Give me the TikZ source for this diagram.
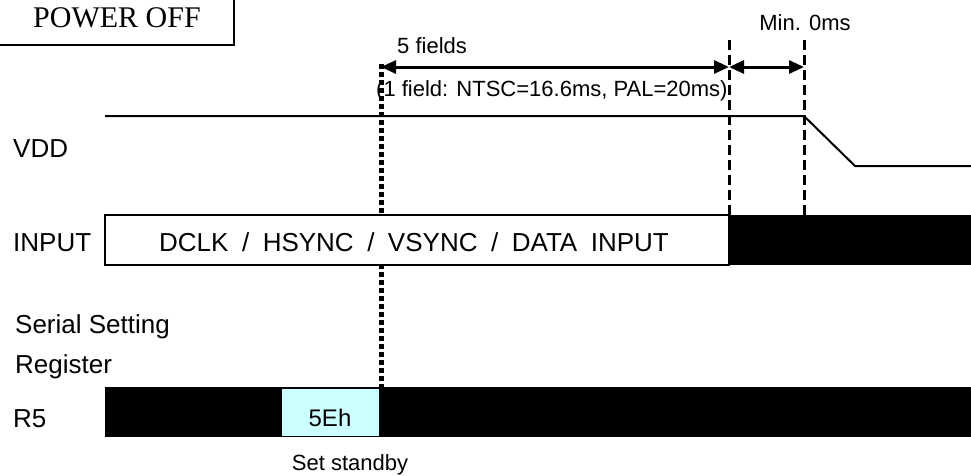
\documentclass[tikz,border=0pt]{standalone}
\usepackage{fontspec}
\setmainfont{Liberation Sans}
\newfontfamily\titleface{Liberation Serif}
\usetikzlibrary{arrows.meta,positioning}
\definecolor{StandbyCyan}{RGB}{204,255,255}
\tikzset{
  siglabel/.style={anchor=base west, inner sep=0pt, font=\fontsize{26}{30}\selectfont},
  note/.style={anchor=base, inner sep=0pt, font=\fontsize{22}{26}\selectfont},
  busopen/.style={draw, line width=2pt, fill=white, minimum height=50pt, inner sep=0pt, outer sep=0pt},
  busdark/.style={fill=black, minimum height=50pt, inner sep=0pt, outer sep=0pt},
  timemark/.style={line width=3pt, dash pattern=on 10pt off 5pt},
  standbymark/.style={line width=5pt, dash pattern=on 5pt off 3pt},
  span/.style={line width=3pt, {Triangle[length=15pt,width=13pt]}-{Triangle[length=15pt,width=13pt]}},
}

\begin{document}
\begin{tikzpicture}[x=1pt, y=-1pt]
  \useasboundingbox (0,0) rectangle (971,475);

  % title box, cut by the page edge
  \draw[line width=2pt] (-10,-10) rectangle (234,45);
  \node[anchor=base, inner sep=0pt, font=\titleface\fontsize{30}{34}\selectfont] (poweroff) at (117,27) {POWER OFF};

  % timing marks
  \coordinate (tstby) at (381,64);
  \coordinate (tfive) at (729,64);
  \coordinate (tmin)  at (804,64);
  \coordinate (topfive) at (729,40);
  \coordinate (topmin)  at (804,40);

  % standby mark goes under the buses
  \draw[standbymark] (tstby) -- (381,388);

  % VDD
  \node[siglabel] (vddlbl) at (13,157) {VDD};
  \coordinate (vddstart) at (105,116);
  \coordinate (vddfall) at (804,116);
  \coordinate (vddlow) at (855,166);
  \coordinate (vddend) at (980,166);
  \draw[line width=2pt] (vddstart) -- (vddfall) -- (vddlow) -- (vddend);

  % INPUT
  \node[siglabel] (inputlbl) at (13,251) {INPUT};
  \node[busopen, minimum width=624pt] (inputbus) at (417,240) {};
  \node[anchor=base, inner sep=0pt, font=\fontsize{26}{30}\selectfont] (inputtxt) at (414,251)
    {\spaceskip=13.5pt DCLK / HSYNC / VSYNC / DATA INPUT};
  \node[busdark, minimum width=260pt, anchor=west] (inputoff) at (inputbus.east) {};

  % serial register
  \node[siglabel] (seriallbl) at (15,333) {Serial Setting};
  \node[siglabel] (reglbl) at (15,373) {Register};
  \node[siglabel] (r5lbl) at (13,427) {R5};
  \node[busdark, minimum width=880pt, anchor=west] (r5bus) at (105,412) {};
  \node[draw, line width=1pt, fill=StandbyCyan, minimum width=98pt, minimum height=48pt, inner sep=0pt] (r5stby) at (330,412) {};
  \node[anchor=base, inner sep=0pt, font=\fontsize{24}{28}\selectfont] (r5val) at (330,426) {5Eh};
  \node[note] (stbylbl) at (350,470) {Set standby};

  % time marks and spans
  \draw[timemark] (topfive) -- (topfive |- inputbus.north);
  \draw[timemark] (topmin) -- (topmin |- inputbus.north);
  \draw[span] (tstby |- 0,67) -- (tfive |- 0,67);
  \draw[span] (tfive |- 0,67) -- (tmin |- 0,67);
  \node[note, anchor=base west] (fivelbl) at (397,53) {5 fields};
  \node[note, anchor=base west] (fieldlbl) at (376,96) {(1 field: NTSC=16.6ms, PAL=20ms)};
  \node[note] (minlbl) at (805,30) {Min. 0ms};
\end{tikzpicture}
\end{document}
